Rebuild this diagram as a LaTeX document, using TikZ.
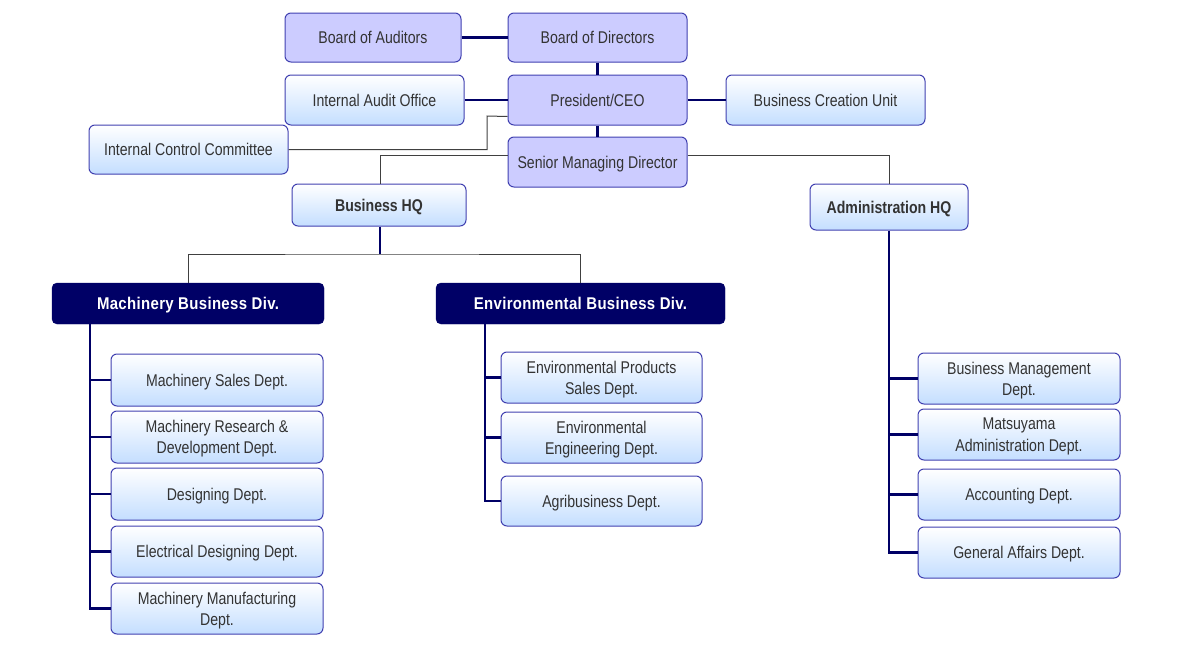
\documentclass[tikz,border=0pt]{standalone}
\usepackage{fontspec}
\setmainfont{Liberation Sans}[FakeStretch=0.83]
\newfontfamily\divfont{Liberation Sans}[FakeStretch=0.88, LetterSpace=2]
\definecolor{navy}{RGB}{0,0,102}
\definecolor{boxline}{RGB}{64,64,176}
\definecolor{lav}{RGB}{204,204,255}
\definecolor{paleblue}{RGB}{196,222,255}
\definecolor{txt}{RGB}{51,51,51}
\begin{document}
\begin{tikzpicture}[x=1pt,y=-1pt,
  base/.style={draw=boxline, line width=1pt, rounded corners=6pt, inner sep=2pt,
    font=\fontsize{17}{21.3}\selectfont, text=txt, align=center, text depth=0pt},
  pbox/.style={base, fill=lav},
  bbox/.style={base, top color=white, bottom color=paleblue},
  hqbox/.style={bbox, font=\fontsize{17}{21.3}\selectfont\bfseries},
  dbox/.style={draw=navy, fill=navy, rounded corners=5pt, text=white, text depth=0pt,
    font=\divfont\fontsize{17}{20}\selectfont\bfseries},
  navyline/.style={draw=navy, line width=2.5pt},
  thinline/.style={draw=black!75, line width=1pt}
]
\useasboundingbox (0,0) rectangle (1195,653);

% top management
\node[pbox, minimum width=176pt, minimum height=49pt] (boa) at (373,37.5) {Board of Auditors};
\node[pbox, minimum width=179pt, minimum height=49pt] (bod) at (597.5,37.5) {Board of Directors};
\node[bbox, minimum width=179pt, minimum height=50pt] (iao) at (374.5,100) {Internal Audit Office};
\node[pbox, minimum width=179pt, minimum height=50pt] (ceo) at (597.5,100) {President/CEO};
\node[bbox, minimum width=199pt, minimum height=50pt] (bcu) at (825.5,100) {Business Creation Unit};
\node[bbox, minimum width=199pt, minimum height=49pt] (icc) at (188.5,149.5) {Internal Control Committee};
\node[pbox, minimum width=179pt, minimum height=50pt] (smd) at (597.5,162) {Senior Managing Director};

% HQs
\node[hqbox, minimum width=174pt, minimum height=42pt] (bhq) at (379,205) {Business HQ};
\node[hqbox, minimum width=158pt, minimum height=46pt] (ahq) at (889,207) {Administration HQ};

% divisions
\node[dbox, minimum width=272pt, minimum height=41pt] (mbd) at (188,303.5) {Machinery Business Div.};
\node[dbox, minimum width=289pt, minimum height=41pt] (ebd) at (580.5,303.5) {Environmental Business Div.};

% machinery depts
\node[bbox, minimum width=212pt, minimum height=52pt] (m1) at (217,380) {Machinery Sales Dept.};
\node[bbox, minimum width=212pt, minimum height=52pt] (m2) at (217,437) {Machinery Research \&\\Development Dept.};
\node[bbox, minimum width=212pt, minimum height=52pt] (m3) at (217,494) {Designing Dept.};
\node[bbox, minimum width=212pt, minimum height=51pt] (m4) at (217,551.5) {Electrical Designing Dept.};
\node[bbox, minimum width=212pt, minimum height=51pt] (m5) at (217,608.5) {Machinery Manufacturing\\Dept.};

% environmental depts
\node[bbox, minimum width=201pt, minimum height=51pt] (e1) at (601.5,377.5) {Environmental Products\\Sales Dept.};
\node[bbox, minimum width=201pt, minimum height=51pt] (e2) at (601.5,437.5) {Environmental\\Engineering Dept.};
\node[bbox, minimum width=201pt, minimum height=50pt] (e3) at (601.5,501) {Agribusiness Dept.};

% administration depts
\node[bbox, minimum width=202pt, minimum height=51pt] (a1) at (1019,378.5) {Business Management\\Dept.};
\node[bbox, minimum width=202pt, minimum height=51pt] (a2) at (1019,434.5) {Matsuyama\\Administration Dept.};
\node[bbox, minimum width=202pt, minimum height=51pt] (a3) at (1019,494.5) {Accounting Dept.};
\node[bbox, minimum width=202pt, minimum height=51pt] (a4) at (1019,552.5) {General Affairs Dept.};

% coordinates
\coordinate (k1) at (487,116);
\coordinate (bj) at (380,254);
\coordinate (mx) at (90,0);
\coordinate (ex) at (485,0);

% top connectors
\draw[navyline] (boa) -- (bod);
\draw[navyline] (bod) -- (ceo);
\draw[navyline] (iao) -- (ceo);
\draw[navyline] (ceo) -- (bcu);
\draw[navyline] (ceo) -- (smd);
\draw[thinline] (icc.east) -| (k1) -- ([yshift=9pt]ceo.south west);
\draw[thinline] ([yshift=7pt]smd.west) -| ([xshift=1pt]bhq.north);
\draw[thinline] ([yshift=7pt]smd.east) -| (ahq.north);

% business HQ
\draw[navyline] ([xshift=1pt]bhq.south) -- (bj);
\draw[thinline] (mbd.north) |- (bj) -| (ebd.north);

% machinery
\draw[navyline] (mx |- mbd.south) |- (m5.west);
\foreach \n in {m1,m2,m3,m4} \draw[navyline] (mx |- \n.west) -- (\n.west);

% environmental
\draw[navyline] (ex |- ebd.south) |- (e3.west);
\foreach \n in {e1,e2} \draw[navyline] (ex |- \n.west) -- (\n.west);

% administration
\draw[navyline] (ahq.south) |- (a4.west);
\foreach \n in {a1,a2,a3} \draw[navyline] (ahq.south |- \n.west) -- (\n.west);
\end{tikzpicture}
\end{document}
